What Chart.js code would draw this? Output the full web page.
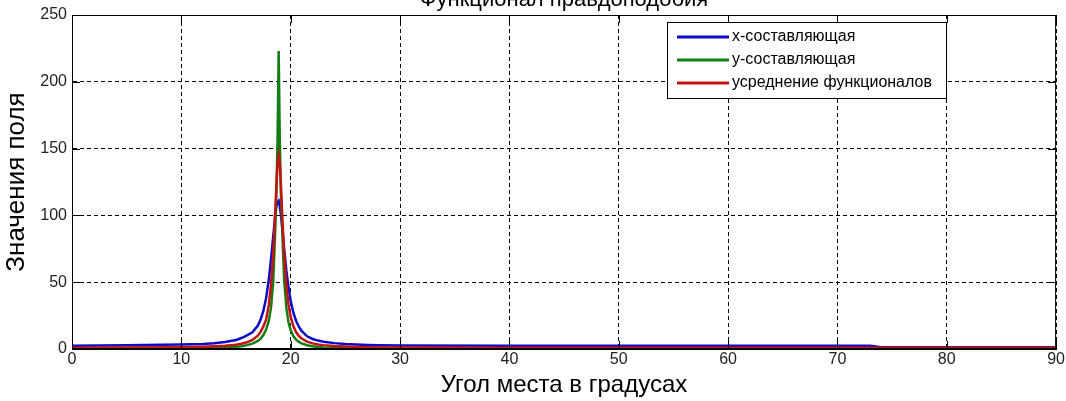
<!DOCTYPE html>
<html><head><meta charset="utf-8">
<script src="https://cdn.jsdelivr.net/npm/chart.js@4.4.0/dist/chart.umd.min.js"></script>
<style>html,body{margin:0;padding:0;background:#fff;overflow:hidden}#wrap{width:1066px;height:401px}</style>
</head><body><div id="wrap"><canvas id="c" width="1066" height="401"></canvas></div>
<script>
const chartTitle = 'Функционал правдоподобия';
const xAxisTitle = 'Угол места в градусах';
const yAxisTitle = 'Значения поля';
const seriesLabels = ['x-составляющая', 'y-составляющая', 'усреднение функционалов'];
const xTicks = [0, 10, 20, 30, 40, 50, 60, 70, 80, 90];
const yTicks = [0, 50, 100, 150, 200, 250];

const angles = [0, 5, 10, 11, 12, 13, 14, 15, 15.5, 16, 16.5, 17, 17.25, 17.5, 17.75, 18, 18.2, 18.4, 18.6, 18.7, 18.8, 18.9, 19.0, 19.1, 19.2, 19.4, 19.6, 19.8, 20, 20.25, 20.5, 20.75, 21, 21.5, 22, 22.5, 23, 24, 25, 26, 27, 28, 30, 40, 50, 60, 70, 73, 74, 80, 90];
const xComponent = [2.5, 2.8, 3.3, 3.5, 3.8, 4.3, 5.2, 6.8, 8.2, 10.2, 12.5, 17.5, 22, 28.5, 38, 52, 67, 84, 101, 107, 110, 111, 107, 101, 93, 75, 59, 46, 36, 27, 21, 16.7, 13.5, 9.5, 7.5, 6.3, 5.5, 4.4, 3.7, 3.3, 3.0, 2.8, 2.6, 2.5, 2.5, 2.5, 2.5, 2.5, 1.3, 1.3, 1.3];
const yComponent = [0.3, 0.3, 0.4, 0.4, 0.5, 0.7, 1.0, 1.6, 2.1, 2.9, 4.0, 6.0, 7.8, 10.5, 14.5, 21, 31, 50, 92, 120, 157, 223, 157, 118, 95, 52, 31, 20, 14, 9.5, 7, 5.3, 4.2, 2.8, 2.0, 1.5, 1.1, 0.7, 0.5, 0.4, 0.3, 0.3, 0.3, 0.3, 0.3, 0.3, 0.3, 0.3, 0.3, 0.3, 0.3];
const averaged = [1, 1.1, 1.4, 1.5, 1.7, 2.0, 2.4, 3.2, 3.9, 5.0, 6.8, 10, 12.8, 16.8, 22, 33, 48, 71, 105, 124, 139, 145, 139, 124, 105, 71, 48, 33, 24, 17, 12.5, 9.7, 7.8, 5.5, 4.2, 3.4, 2.9, 2.2, 1.8, 1.5, 1.3, 1.2, 1.1, 1, 1, 1, 1, 1, 1, 1, 1];

const colors = ['#0b0bc8', '#147d14', '#c41212'];
const FONT = "'Liberation Sans', Arial, sans-serif";

function pts(vals) { return angles.map((a, i) => ({x: a, y: vals[i]})); }

const framePlugin = {
  id: 'frame',
  afterDatasetsDraw(chart) {
    const {ctx, chartArea: a, scales} = chart;
    ctx.save();
    ctx.strokeStyle = '#000';
    ctx.lineWidth = 1;
    ctx.setLineDash([]);
    ctx.strokeRect(a.left + 0.5, a.top + 0.5, a.right - a.left - 1, a.bottom - a.top - 1);
    const tl = 8;
    ctx.beginPath();
    xTicks.forEach(v => {
      const x = Math.round(scales.x.getPixelForValue(v)) + 0.5;
      ctx.moveTo(x, a.bottom); ctx.lineTo(x, a.bottom - tl);
      ctx.moveTo(x, a.top); ctx.lineTo(x, a.top + tl);
    });
    yTicks.forEach(v => {
      const y = Math.round(scales.y.getPixelForValue(v)) + 0.5;
      ctx.moveTo(a.left, y); ctx.lineTo(a.left + tl, y);
      ctx.moveTo(a.right, y); ctx.lineTo(a.right - tl, y);
    });
    ctx.stroke();

    // legend box
    const bx = 667, by = 22, bw = 279, bh = 76;
    ctx.fillStyle = '#fff';
    ctx.fillRect(bx, by, bw, bh);
    ctx.strokeRect(bx + 0.5, by + 0.5, bw, bh);
    ctx.font = '16px ' + FONT;
    ctx.textBaseline = 'middle';
    ctx.textAlign = 'left';
    chart.data.datasets.forEach((ds, i) => {
      const y = 37 + i * 23;
      ctx.strokeStyle = ds.borderColor;
      ctx.lineWidth = 3;
      ctx.beginPath(); ctx.moveTo(677, y); ctx.lineTo(729, y); ctx.stroke();
      ctx.fillStyle = '#000';
      ctx.fillText(ds.label, 732, y);
    });

    // title (partially cut by the top edge, as in the reference)
    ctx.font = '22px ' + FONT;
    ctx.textAlign = 'center';
    ctx.textBaseline = 'alphabetic';
    ctx.fillStyle = '#000';
    ctx.fillText(chartTitle, (a.left + a.right) / 2, 6);
    ctx.restore();
  }
};

new Chart(document.getElementById('c'), {
  type: 'line',
  data: {
    datasets: [
      {label: seriesLabels[0], data: pts(xComponent), borderColor: colors[0], order: 3},
      {label: seriesLabels[1], data: pts(yComponent), borderColor: colors[1], order: 2},
      {label: seriesLabels[2], data: pts(averaged), borderColor: colors[2], order: 1}
    ].map(d => Object.assign(d, {borderWidth: 2.5, pointRadius: 0, tension: 0, fill: false}))
  },
  options: {
    responsive: false,
    animation: false,
    devicePixelRatio: 1,
    layout: {padding: {top: 15, right: 8, left: 0, bottom: 0}},
    plugins: {legend: {display: false}, tooltip: {enabled: false}, title: {display: false}},
    scales: {
      x: {
        type: 'linear', min: 0, max: 90,
        afterFit: s => { s.height = 52; },
        afterBuildTicks: s => { s.ticks = xTicks.map(v => ({value: v})); },
        ticks: {font: {size: 16, family: FONT}, color: '#222', padding: 1, maxRotation: 0, autoSkip: false},
        grid: {color: '#000', lineWidth: 1, drawTicks: false},
        border: {display: true, color: '#000', dash: [4, 3]},
        title: {display: true, text: xAxisTitle, font: {size: 24, family: FONT}, color: '#000', padding: {top: 0, bottom: 1}}
      },
      y: {
        type: 'linear', min: 0, max: 250,
        afterFit: s => { s.width = 72; },
        afterBuildTicks: s => { s.ticks = yTicks.map(v => ({value: v})); },
        ticks: {font: {size: 16, family: FONT}, color: '#222', padding: 5, autoSkip: false},
        grid: {color: '#000', lineWidth: 1, drawTicks: false},
        border: {display: true, color: '#000', dash: [4, 3]},
        title: {display: true, text: yAxisTitle, font: {size: 26, family: FONT}, color: '#000', padding: {top: 1, bottom: 0}}
      }
    }
  },
  plugins: [framePlugin]
});
</script></body></html>
